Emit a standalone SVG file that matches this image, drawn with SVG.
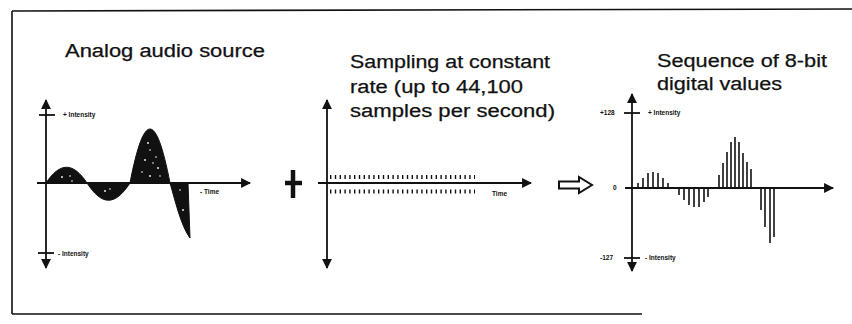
<svg xmlns="http://www.w3.org/2000/svg" width="852" height="324" viewBox="0 0 852 324">
<style>
.title{font-family:"Liberation Sans",Arial,sans-serif;font-size:18px;fill:#111;stroke:#111;stroke-width:0.25}
.tiny{font-family:"Liberation Sans",Arial,sans-serif;font-size:6.5px;font-weight:bold;fill:#111}
.ax{stroke:#111;stroke-width:1.8;fill:none}
.bar{stroke:#111;stroke-width:1.6}
</style>
<defs>
<marker id="ah" viewBox="0 0 10 10" refX="9" refY="5" markerWidth="5.5" markerHeight="5.5" orient="auto-start-reverse" markerUnits="strokeWidth">
<path d="M0,0 L10,5 L0,10 Z" fill="#111"/>
</marker>
</defs>
<rect width="852" height="324" fill="#fff"/>
<g id="frame" stroke="#111" stroke-width="1.6" fill="none">
<path d="M12,11 L852,9"/>
<path d="M12,11 L12,314"/>
<path d="M12,314 L642,314"/>
</g>

<g id="analog">
<text class="title" x="65" y="57" textLength="200" lengthAdjust="spacingAndGlyphs">Analog audio source</text>
<line class="ax" x1="46" y1="268" x2="46" y2="100" marker-start="url(#ah)" marker-end="url(#ah)"/>
<line class="ax" x1="37" y1="183" x2="250" y2="183" marker-end="url(#ah)"/>
<line class="ax" x1="39" y1="115" x2="55" y2="115"/>
<line class="ax" x1="38" y1="253" x2="54" y2="253"/>
<text class="tiny" x="63" y="117">+ Intensity</text>
<text class="tiny" x="58" y="256">- Intensity</text>
<text class="tiny" x="200" y="194">-  Time</text>
<path d="M46,183 C60,162 73,162 87,183 C102,206 115,206 130,183 C144,111 156,111 170,183 C175,200 181,226 190,238 L188,183 Z" fill="#111" stroke="#111" stroke-width="1"/>
<g fill="#fff">
<circle cx="62" cy="177" r="0.9"/><circle cx="70" cy="176" r="0.8"/><circle cx="72" cy="181" r="0.8"/>
<circle cx="105" cy="191" r="0.9"/><circle cx="110" cy="189" r="0.8"/>
<circle cx="148" cy="143" r="0.9"/><circle cx="150" cy="150" r="0.8"/><circle cx="145" cy="160" r="0.9"/>
<circle cx="153" cy="163" r="0.8"/><circle cx="158" cy="168" r="0.9"/><circle cx="142" cy="172" r="0.8"/>
<circle cx="150" cy="176" r="0.9"/><circle cx="160" cy="176" r="0.8"/><circle cx="156" cy="157" r="0.8"/>
<circle cx="180" cy="190" r="0.8"/><circle cx="183" cy="210" r="0.9"/>
</g>
</g>

<g id="sampling">
<text class="title" x="350" y="68" textLength="200" lengthAdjust="spacingAndGlyphs">Sampling at constant</text>
<text class="title" x="350" y="93" textLength="173" lengthAdjust="spacingAndGlyphs">rate (up to 44,100</text>
<text class="title" x="350" y="117" textLength="205" lengthAdjust="spacingAndGlyphs">samples per second)</text>
<line class="ax" x1="327" y1="268" x2="327" y2="100" marker-start="url(#ah)" marker-end="url(#ah)"/>
<line class="ax" x1="318" y1="183" x2="531" y2="183" marker-end="url(#ah)"/>
<line x1="330" y1="177" x2="475" y2="177" stroke="#111" stroke-width="4" stroke-dasharray="1.4 3.4"/>
<line x1="330" y1="191.5" x2="475" y2="191.5" stroke="#111" stroke-width="4" stroke-dasharray="1.4 3.4"/>
<text class="tiny" x="492" y="196">Time</text>
</g>

<g id="digital">
<text class="title" x="657" y="67" textLength="170" lengthAdjust="spacingAndGlyphs">Sequence of 8-bit</text>
<text class="title" x="657" y="90" textLength="125" lengthAdjust="spacingAndGlyphs">digital values</text>
<line class="ax" x1="632" y1="271" x2="632" y2="94" marker-start="url(#ah)" marker-end="url(#ah)"/>
<line class="ax" x1="625" y1="188" x2="833" y2="188" marker-end="url(#ah)"/>
<line class="ax" x1="624" y1="113" x2="640" y2="113"/>
<line class="ax" x1="624" y1="258" x2="640" y2="258"/>
<text class="tiny" x="600" y="115">+128</text>
<text class="tiny" x="600" y="260">-127</text>
<text class="tiny" x="613" y="190">0</text>
<text class="tiny" x="648" y="115">+ Intensity</text>
<text class="tiny" x="645" y="260">- Intensity</text>
<g class="bar">
<line x1="638" y1="188" x2="638" y2="183"/><line x1="643" y1="188" x2="643" y2="178"/>
<line x1="648" y1="188" x2="648" y2="173"/><line x1="653" y1="188" x2="653" y2="172"/>
<line x1="658" y1="188" x2="658" y2="173"/><line x1="663" y1="188" x2="663" y2="178"/>
<line x1="668" y1="188" x2="668" y2="183"/>
<line x1="679" y1="188" x2="679" y2="195"/><line x1="684" y1="188" x2="684" y2="200"/>
<line x1="689" y1="188" x2="689" y2="205"/><line x1="694" y1="188" x2="694" y2="207"/>
<line x1="699" y1="188" x2="699" y2="207"/><line x1="704" y1="188" x2="704" y2="202"/>
<line x1="708" y1="188" x2="708" y2="197"/>
<line x1="719" y1="188" x2="719" y2="175"/><line x1="723" y1="188" x2="723" y2="163"/>
<line x1="727" y1="188" x2="727" y2="152"/><line x1="731" y1="188" x2="731" y2="142"/>
<line x1="735" y1="188" x2="735" y2="137"/><line x1="739" y1="188" x2="739" y2="142"/>
<line x1="743" y1="188" x2="743" y2="153"/><line x1="747" y1="188" x2="747" y2="162"/>
<line x1="751" y1="188" x2="751" y2="169"/>
<line x1="761" y1="188" x2="761" y2="210"/><line x1="765" y1="188" x2="765" y2="227"/>
<line x1="770" y1="188" x2="770" y2="243"/><line x1="774" y1="188" x2="774" y2="237"/>
</g>
</g>

<g id="connectors">
<g id="plus" stroke="#111" stroke-width="4.5">
<line x1="285" y1="183" x2="302" y2="183"/>
<line x1="293" y1="170" x2="293" y2="198"/>
</g>
<path id="implies" d="M559,181.5 H579 V177 L592,185 L579,193 V188.5 H559 Z" fill="#fff" stroke="#111" stroke-width="2" stroke-linejoin="miter"/>
</g>
</svg>
